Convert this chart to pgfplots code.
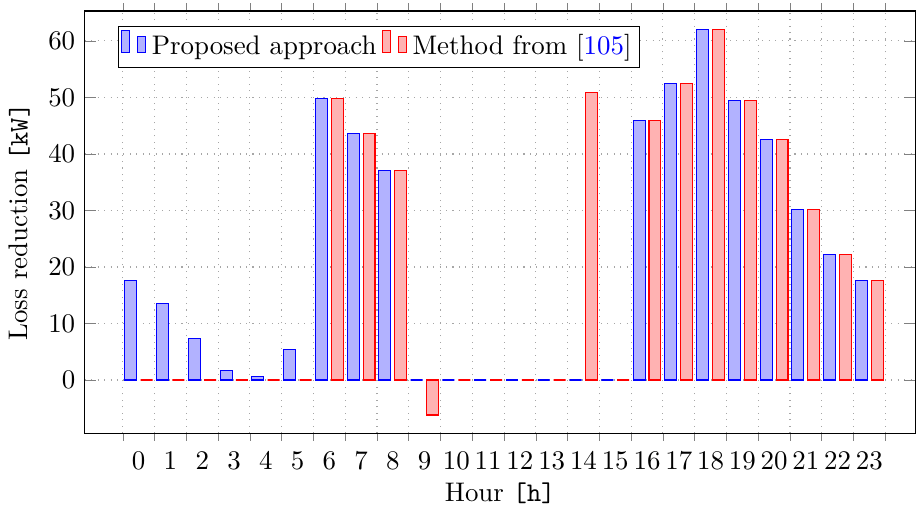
\documentclass[border=0pt]{standalone}
\usepackage{pgfplots}
\pgfplotsset{compat=1.18}
\begin{document}
\begin{tikzpicture}
\begin{axis}[
  scale only axis,
  width=309pt, height=157pt,
  xmin=-1.7, xmax=24.45,
  ymin=-9.4, ymax=65.3,
  xtick={0,...,23},
  major x tick style={draw=none},
  minor xtick={-0.5,0.5,...,23.5},
  xminorgrids=true, xmajorgrids=false, ymajorgrids=true,
  grid style={dotted, gray!70},
  minor x tick style={/pgfplots/tick align=outside},
  xticklabel style={yshift=-3.4pt},
  xlabel style={yshift=1.9pt},
  ytick={0,10,...,60},
  xlabel={Hour \texttt{[h]}},
  ylabel={Loss reduction \texttt{[kW]}},
  bar width=0.377,
  legend columns=-1,
  legend style={at={(0.04,0.964)}, anchor=north west, draw=black, inner sep=1pt},
]
\addplot[ybar, ybar legend, bar shift=-0.25, draw=blue, fill=blue!30] coordinates {
(0,17.6) (1,13.5) (2,7.4) (3,1.7) (4,0.7) (5,5.35) (6,49.8) (7,43.6) (8,37.1)
(9,0) (10,0) (11,0) (12,0) (13,0) (14,0) (15,0) (16,46.0) (17,52.4)
(18,62.0) (19,49.5) (20,42.5) (21,30.2) (22,22.2) (23,17.6)};
\addlegendentry{Proposed approach}
\addplot[ybar, ybar legend, bar shift=0.25, draw=red, fill=red!30] coordinates {
(0,0) (1,0) (2,0) (3,0) (4,0) (5,0) (6,49.8) (7,43.6) (8,37.1)
(9,-6.2) (10,0) (11,0) (12,0) (13,0) (14,50.8) (15,0) (16,46.0) (17,52.4)
(18,62.0) (19,49.5) (20,42.5) (21,30.2) (22,22.2) (23,17.6)};
\addlegendentry{Method from [\textcolor{blue}{105}]}
\end{axis}
\path (current axis.north) ++(0,4.1pt);
\end{tikzpicture}
\end{document}
